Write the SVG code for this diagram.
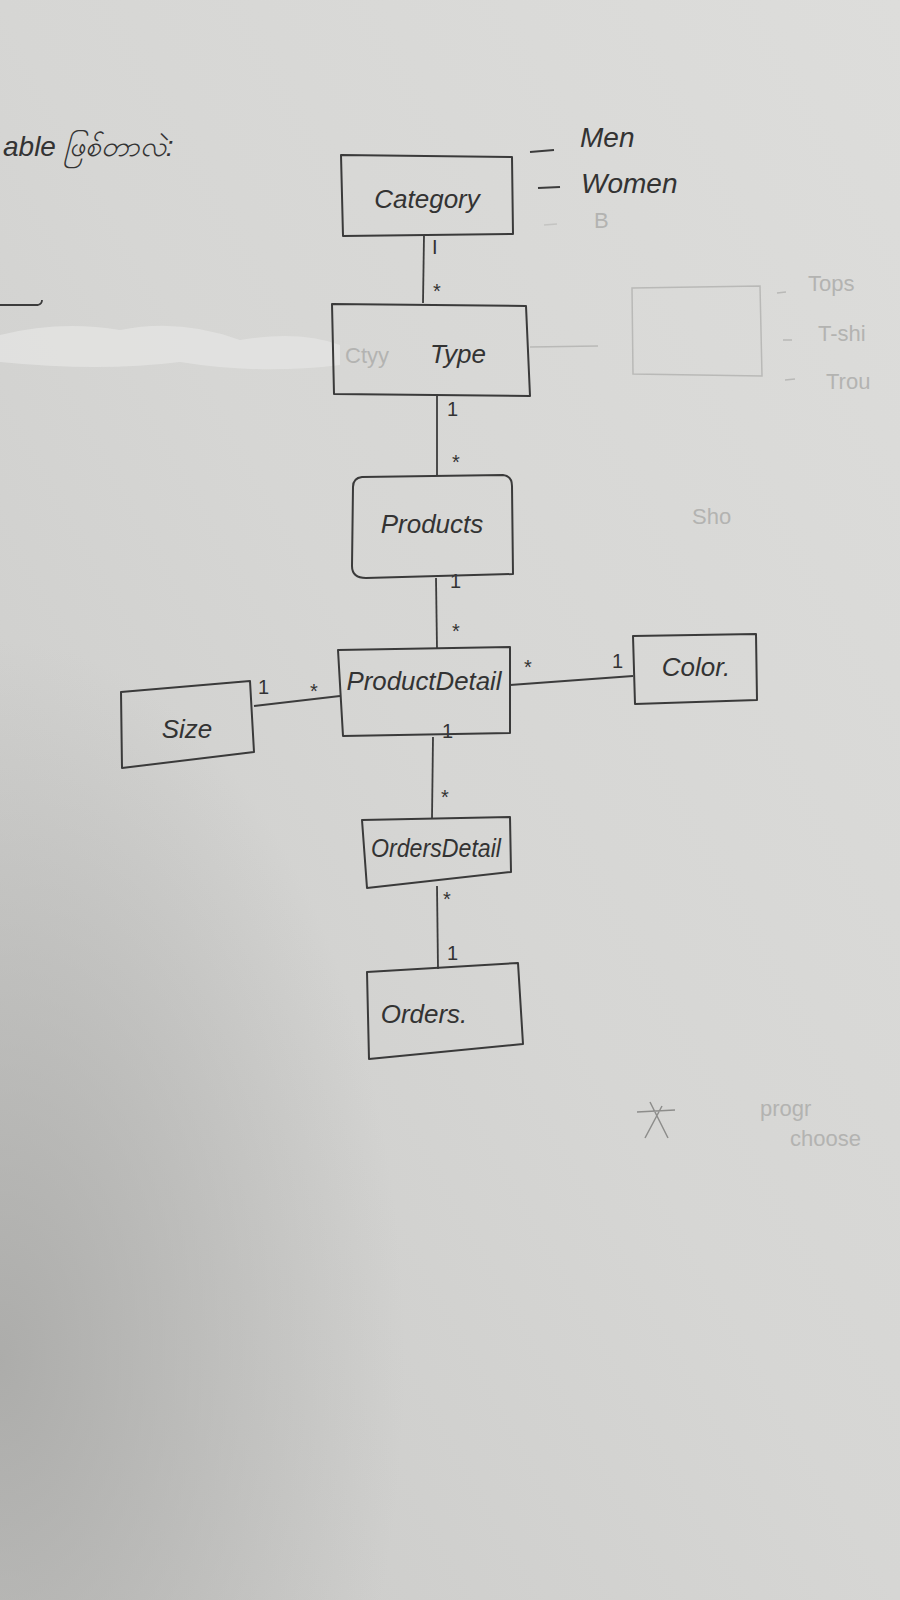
<svg xmlns="http://www.w3.org/2000/svg" width="900" height="1600" viewBox="0 0 900 1600">
<defs>
<linearGradient id="bg" x1="1" y1="0" x2="0" y2="1">
<stop offset="0" stop-color="#dddddb"/>
<stop offset="0.5" stop-color="#d6d6d4"/>
<stop offset="1" stop-color="#c9c9c7"/>
</linearGradient>
<radialGradient id="shadow" cx="0" cy="0.85" r="0.45">
<stop offset="0" stop-color="#a9a9a7" stop-opacity="0.9"/>
<stop offset="1" stop-color="#a9a9a7" stop-opacity="0"/>
</radialGradient>
<style>
.box{fill:none;stroke:#3a3a3a;stroke-width:2;stroke-linejoin:round}
.faintbox{fill:none;stroke:#b9b9b7;stroke-width:1.5}
.line{fill:none;stroke:#3c3c3c;stroke-width:1.8}
.lbl{font-family:"Liberation Sans","DejaVu Sans",sans-serif;font-size:26px;fill:#333;font-style:italic}
.mult{font-family:"Liberation Sans","DejaVu Sans",sans-serif;font-size:20px;fill:#333}
.note{font-family:"Liberation Sans","DejaVu Sans",sans-serif;font-size:28px;fill:#333;font-style:italic}
.faint{font-family:"Liberation Sans","DejaVu Sans",sans-serif;font-size:22px;fill:#b3b3b1}
</style>
</defs>
<rect width="900" height="1600" fill="url(#bg)"/>
<rect width="900" height="1600" fill="url(#shadow)"/>
<!-- erased smudge -->
<path d="M0 335 Q60 320 120 330 Q180 318 240 340 Q300 330 340 345 L340 365 Q260 375 180 362 Q100 372 0 362 Z" fill="#e4e4e2" opacity="0.8"/>

<!-- top-left heading -->
<text x="3" y="156" class="note">able ဖြစ်တာလဲ:</text>
<path d="M0 305 L38 305 Q42 304 42 300" class="line"/>

<!-- category side notes -->
<text x="580" y="147" class="note">Men</text>
<text x="581" y="193" class="note">Women</text>
<path d="M530 152 L554 150" class="line"/>
<path d="M538 188 L560 187" class="line"/>
<path d="M544 225 L557 224" stroke="#c4c4c2" stroke-width="1.5"/>
<text x="594" y="228" class="faint">B</text>

<!-- faint erased elements -->
<path d="M632 288 L760 286 L762 376 L633 374 Z" class="faintbox"/>
<path d="M530 347 L598 346" class="faintbox"/>
<path d="M777 293 L786 292 M783 340 L792 340 M785 380 L795 379" class="faintbox"/>
<text x="808" y="291" class="faint">Tops</text>
<text x="818" y="341" class="faint">T-shi</text>
<text x="826" y="389" class="faint">Trou</text>
<text x="692" y="524" class="faint" font-size="20">Sho</text>
<text x="760" y="1116" class="faint" fill="#a5a5a3">progr</text>
<text x="790" y="1146" class="faint" fill="#c0c0be">choose</text>
<path d="M637 1112 L675 1110 M650 1102 L668 1138 M645 1138 L662 1106" stroke="#8d8d8b" stroke-width="1.5" fill="none"/>

<g id="connectors">
<path d="M424 235 L423 303" class="line"/>
<path d="M437 396 L437 476" class="line"/>
<path d="M436 578 L437 649" class="line"/>
<path d="M254 706 L340 696" class="line"/>
<path d="M510 685 L633 676" class="line"/>
<path d="M433 737 L432 819" class="line"/>
<path d="M437 886 L438 969" class="line"/>
<text x="432" y="254" class="mult">I</text>
<text x="433" y="298" class="mult">*</text>
<text x="447" y="416" class="mult">1</text>
<text x="452" y="469" class="mult">*</text>
<text x="450" y="588" class="mult">1</text>
<text x="452" y="638" class="mult">*</text>
<text x="258" y="694" class="mult">1</text>
<text x="310" y="698" class="mult">*</text>
<text x="524" y="674" class="mult">*</text>
<text x="612" y="668" class="mult">1</text>
<text x="442" y="738" class="mult">1</text>
<text x="441" y="804" class="mult">*</text>
<text x="443" y="906" class="mult">*</text>
<text x="447" y="960" class="mult">1</text>
</g>

<g id="category">
<path d="M341 155 L512 157 L513 234 L343 236 Z" class="box"/>
<text x="427" y="208" class="lbl" text-anchor="middle">Category</text>
</g>
<g id="type">
<path d="M332 304 L526 306 L530 396 L334 394 Z" class="box"/>
<text x="345" y="363" class="faint">Ctyy</text>
<text x="430" y="363" class="lbl">Type</text>
</g>
<g id="products">
<path d="M353 487 Q353 478 362 477 L503 475 Q512 476 512 486 L513 574 L366 578 Q352 578 352 566 Z" class="box"/>
<text x="432" y="533" class="lbl" text-anchor="middle">Products</text>
</g>
<g id="productdetail">
<path d="M338 650 L510 647 L510 733 L343 736 Z" class="box"/>
<text x="424" y="690" class="lbl" text-anchor="middle" textLength="155" lengthAdjust="spacingAndGlyphs">ProductDetail</text>
</g>
<g id="size">
<path d="M121 692 L250 681 L254 752 L122 768 Z" class="box"/>
<text x="187" y="738" class="lbl" text-anchor="middle">Size</text>
</g>
<g id="color">
<path d="M633 636 L756 634 L757 700 L635 704 Z" class="box"/>
<text x="696" y="676" class="lbl" text-anchor="middle">Color.</text>
</g>
<g id="ordersdetail">
<path d="M362 820 L510 817 L511 872 L367 888 Z" class="box"/>
<text x="436" y="857" class="lbl" text-anchor="middle" textLength="130" lengthAdjust="spacingAndGlyphs">OrdersDetail</text>
</g>
<g id="orders">
<path d="M367 972 L518 963 L523 1044 L369 1059 Z" class="box"/>
<text x="424" y="1023" class="lbl" text-anchor="middle">Orders.</text>
</g>
</svg>
